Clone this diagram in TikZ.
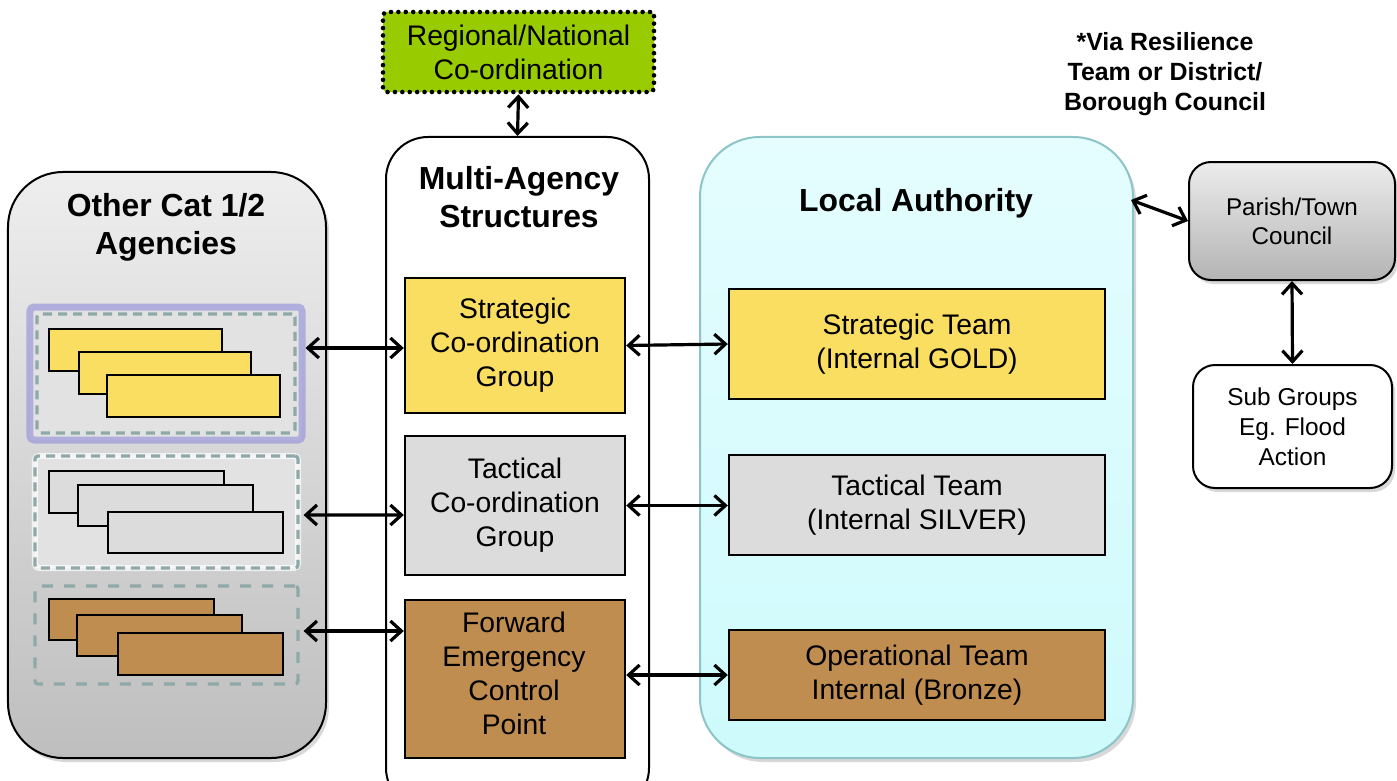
\documentclass[tikz,border=0pt]{standalone}
\usepackage{fontspec}
\setmainfont{Liberation Sans}
\usetikzlibrary{arrows.meta,shadows,calc}
\definecolor{cyel}{RGB}{249,222,98}
\definecolor{cbrn}{RGB}{192,141,80}
\definecolor{cgry}{RGB}{220,220,220}
\definecolor{cgrn}{RGB}{153,204,0}
\definecolor{clatop}{RGB}{229,253,254}
\definecolor{clabot}{RGB}{206,250,252}
\definecolor{clab}{RGB}{140,196,200}
\definecolor{cpur}{RGB}{142,140,216}
\definecolor{cdash}{RGB}{143,168,168}
\definecolor{cframe}{RGB}{226,226,226}
\begin{document}
\begin{tikzpicture}[x=1bp,y=-1bp,
  txt/.style={font=\fontsize{28.4}{34.1}\selectfont, align=center},
  ttl/.style={font=\fontsize{32}{38}\selectfont\bfseries, align=center},
  box/.style={draw=black, line width=2.4bp, inner sep=0pt, txt},
  panel/.style={draw=black, line width=2bp, inner sep=0pt},
  shad/.style={drop shadow={shadow xshift=3bp, shadow yshift=-4bp, opacity=.3}},
  arr/.style={line width=3.2bp, {Straight Barb[length=11bp,width=20bp,line width=3.2bp]}-{Straight Barb[length=11bp,width=20bp,line width=3.2bp]}},
  frameglow/.style={draw=cpur, draw opacity=.6, line width=7bp, rounded corners=4bp, inner sep=0pt, fill=cframe},
  framedash/.style={draw=cdash, line width=3.2bp, dash pattern=on 9bp off 6bp, rounded corners=3bp, inner sep=0pt},
  stk/.style={draw=black, line width=2.2bp}
]
\clip (0,0) rectangle (1397,780);
\fill[white] (0,0) rectangle (1397,780);

% panels
\node[panel, shad, rounded corners=55bp, minimum width=318bp, minimum height=586bp,
  top color={rgb,255:red,238;green,238;blue,238}, bottom color={rgb,255:red,190;green,190;blue,190}] (left) at (167,465) {};
\node[panel, rounded corners=42bp, minimum width=263bp, minimum height=673bp, fill=white] (ma) at (517.5,473.5) {};
\node[panel, draw=clab, shad, rounded corners=60bp, minimum width=433bp, minimum height=621bp,
  top color=clatop, bottom color=clabot] (la) at (916.5,447.5) {};

% titles
\node[ttl] (lefttitle) at (166,227) {Other Cat 1/2\\Agencies};
\node[ttl] (matitle) at (519,197) {Multi-Agency\\Structures};
\node[ttl] (latitle) at (916,203) {Local Authority};
\node[font=\fontsize{25}{30}\selectfont\bfseries, align=center] (note) at (1165,74) {*Via Resilience\\Team or District/\\Borough Council};

% green box
\node[box, fill=cgrn, line width=4.6bp, dash pattern=on 0bp off 7.4bp, line cap=round, rounded corners=4bp,
  minimum width=271bp, minimum height=80bp] (green) at (518.5,52) {Regional/National\\Co-ordination};

% stacks on the left
\node[frameglow, minimum width=272bp, minimum height=133bp] (f1) at (166,373.5) {};
\node[framedash, minimum width=258bp, minimum height=119bp] (f1d) at (166,373.5) {};
\draw[stk, fill=cyel] (49,329) rectangle (222,371);
\draw[stk, fill=cyel] (79,352) rectangle (251,394);
\draw[stk, fill=cyel] (107,375) rectangle (280,417);

\node[draw=white, draw opacity=.7, line width=6bp, rounded corners=4bp, inner sep=0pt, fill=cframe,
  minimum width=263bp, minimum height=112bp] (f2g) at (166.5,512) {};
\node[framedash, minimum width=263bp, minimum height=112bp] (f2) at (166.5,512) {};
\draw[stk, fill=cgry] (49,471) rectangle (224,513);
\draw[stk, fill=cgry] (78,485) rectangle (253,526);
\draw[stk, fill=cgry] (108,512) rectangle (283,553);

\node[framedash, dash pattern=on 11bp off 11bp, minimum width=263bp, minimum height=98bp] (f3) at (166.5,635) {};
\draw[stk, fill=cbrn] (49,599) rectangle (214,640);
\draw[stk, fill=cbrn] (77,615) rectangle (242,656);
\draw[stk, fill=cbrn] (118,633) rectangle (283,675);

% middle boxes
\node[box, fill=cyel, minimum width=220bp, minimum height=135bp] (scg) at (515,345.5) {Strategic\\Co-ordination\\Group};
\node[box, fill=cgry, minimum width=220bp, minimum height=139bp] (tcg) at (515,505.5) {Tactical\\Co-ordination\\Group};
\node[box, fill=cbrn, minimum width=220bp, minimum height=158bp] (fecp) at (515,679) {};
\node[txt] (fecptext) at (514,673) {Forward\\Emergency\\Control\\Point};

% local authority boxes
\node[box, fill=cyel, minimum width=376bp, minimum height=110bp] (stg) at (917,344) {Strategic Team\\(Internal GOLD)};
\node[box, fill=cgry, minimum width=376bp, minimum height=100bp] (ttg) at (917,505) {Tactical Team\\(Internal SILVER)};
\node[box, fill=cbrn, minimum width=376bp, minimum height=90bp] (otg) at (917,675) {Operational Team\\Internal (Bronze)};

% right boxes
\node[panel, shad, rounded corners=22bp, minimum width=206bp, minimum height=118bp,
  top color={rgb,255:red,236;green,236;blue,236}, bottom color={rgb,255:red,180;green,180;blue,180},
  font=\fontsize{24.3}{29}\selectfont, align=center] (parish) at (1292,221) {Parish/Town\\Council};
\node[panel, shad, rounded corners=22bp, minimum width=199bp, minimum height=123bp, fill=white,
  font=\fontsize{24.5}{30}\selectfont, align=center] (sub) at (1292.5,426.5) {Sub Groups\\Eg. Flood\\Action};

% connectors
\coordinate (lapt) at (1131,200);
\draw[arr] (green.south) -- (ma.north);
\draw[arr] ($(f1.east |- scg.west)+(0,2.5)$) -- ($(scg.west)+(0,2.5)$);
\draw[arr] (scg.east) -- (stg.west);
\draw[arr] ($(f2.east)+(4,3)$) -- ($(tcg.west)+(0,9.5)$);
\draw[arr] (tcg.east) -- (tcg.east -| ttg.west);
\draw[arr] ($(f3.east)+(4,-4)$) -- ($(f3.east -| fecp.west)+(0,-4)$);
\draw[arr] (otg.west -| fecp.east) -- (otg.west);
\draw[arr] (lapt) -- (parish.west);
\draw[arr] (parish.south) -- (sub.north);
\end{tikzpicture}
\end{document}
